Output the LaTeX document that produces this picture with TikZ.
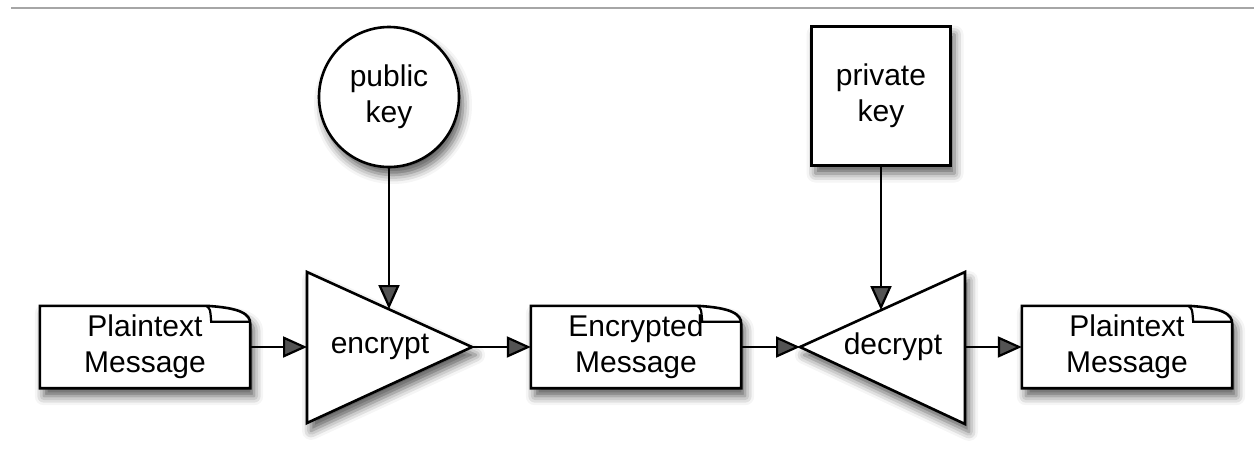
\documentclass[tikz,border=0pt]{standalone}
\usepackage{fontspec}
\setmainfont{Liberation Sans}
\usetikzlibrary{arrows.meta,shadows.blur,calc}
\pgfdeclarelayer{bg}
\pgfsetlayers{bg,main}
\begin{document}
\begin{tikzpicture}[x=1pt,y=-1pt,
  lbl/.style={font=\fontsize{30}{36}\selectfont, align=center, inner sep=0pt, text=black},
  conn/.style={line width=2.2pt, -{Triangle[length=24pt,width=21pt]}},
  shp/.style={draw, line width=2.6pt, fill=white, line join=miter,
    blur shadow={shadow xshift=4pt, shadow yshift=-8pt, shadow blur radius=9pt, shadow opacity=65}},
  docbox/.style={lbl, minimum width=210pt, minimum height=82pt},
  fold/.style={line width=2.2pt}
]
\useasboundingbox (0,0) rectangle (1254,459);
\draw[black!35, line width=1.5pt] (11,8) -- (1254,8);

% nodes
\node[docbox] (doc1) at (145,347) {Plaintext\\Message};
\node[docbox] (doc2) at (636,347) {Encrypted\\Message};
\node[docbox] (doc3) at (1127,347) {Plaintext\\Message};
\node[lbl] (enc) at (380,347) {encrypt};
\node[lbl] (dec) at (893,347) {decrypt};
\node[lbl, shp, circle, minimum size=140pt] (pub) at (389,97) {public\\key};
\node[lbl, shp, minimum size=139pt] (priv) at (881,96) {private\\key};

\coordinate (encL) at (307,347);
\coordinate (encR) at (472,347);
\coordinate (encT) at (389,309);
\coordinate (decL) at (800,347);
\coordinate (decR) at (965,347);
\coordinate (decT) at (881,310);

\begin{pgfonlayer}{bg}
  \foreach \d in {doc1,doc2,doc3}{
    \draw[shp] (\d.north west) -- ($(\d.north east)+(-44,0)$)
      .. controls ($(\d.north east)+(-10,2)$) and ($(\d.north east)+(0,8)$) .. ($(\d.north east)+(0,18)$)
      -- (\d.south east) -- (\d.south west) -- cycle;
    \draw[fold] ($(\d.north east)+(-44,0)$) .. controls ($(\d.north east)+(-40,3)$) .. ($(\d.north east)+(-39,16)$) -- ($(\d.north east)+(0,16)$);
  }
  \draw[shp] (307,272) -- (encR) -- (307,423) -- cycle;
  \draw[shp] (965,272) -- (decL) -- (965,424) -- cycle;
\end{pgfonlayer}

% connectors
\draw[conn] (doc1.east) -- (encL);
\draw[conn] (encR) -- (doc2.west);
\draw[conn] (doc2.east) -- (decL);
\draw[conn] (decR) -- (doc3.west);
\draw[conn] (pub.south) -- (encT);
\draw[conn] (priv.south) -- (decT);
\end{tikzpicture}
\end{document}
